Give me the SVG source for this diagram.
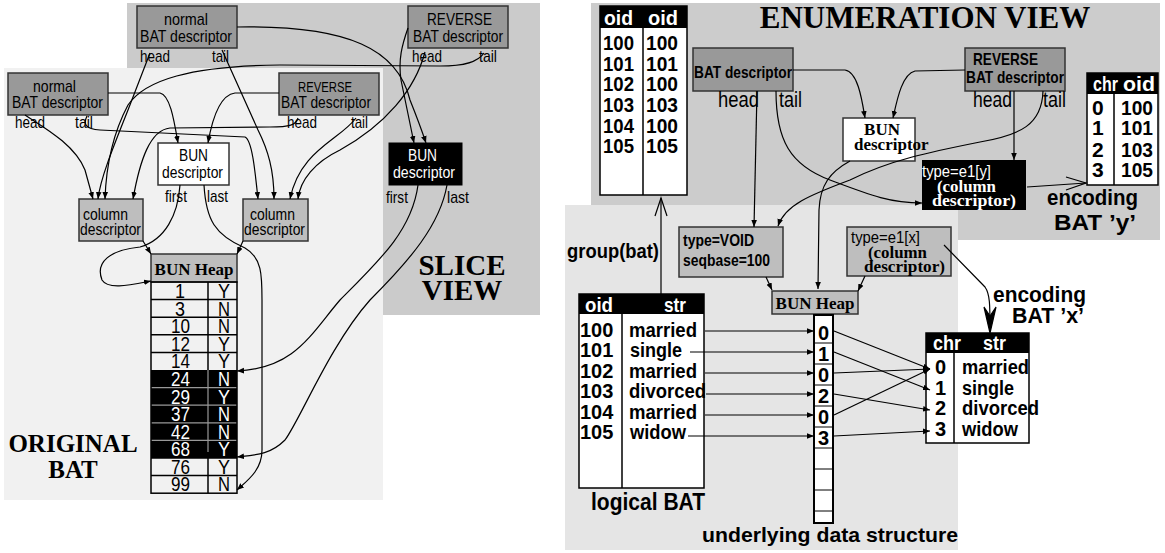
<svg xmlns="http://www.w3.org/2000/svg" width="1165" height="553" viewBox="0 0 1165 553">
<style>
.n{font-family:"Liberation Sans",Arial,sans-serif;}
.nb{font-family:"Liberation Sans",Arial,sans-serif;font-weight:bold;}
.sb{font-family:"Liberation Serif","Times New Roman",serif;font-weight:bold;}
.c{stroke:#000;stroke-width:1.2;fill:none;}
.box{stroke:#333;stroke-width:1.5;}
.dark{fill:#999999;}
.mid{fill:#bebebe;}
.w{fill:#fff;}
.grid{stroke:#000;stroke-width:1.5;fill:none;}
</style>
<defs>
<marker id="a" viewBox="0 0 10 10" refX="10" refY="5" markerWidth="7" markerHeight="7" markerUnits="userSpaceOnUse" orient="auto">
<path d="M0,1 L10,5 L0,9 z" fill="#000"/>
</marker>
</defs>

<!-- backgrounds -->
<rect x="127" y="3" width="413" height="312" fill="#cbcbcb"/>
<rect x="4" y="68" width="379" height="432" fill="#f1f1f1"/>
<rect x="591" y="3" width="569" height="237" fill="#cccccc"/>
<rect x="565" y="205" width="393" height="345" fill="#e5e5e5"/>

<!-- titles -->
<g id="slice-title" class="sb" font-size="29" text-anchor="middle"><text x="462" y="275">SLICE</text><text x="462" y="300">VIEW</text></g>
<g id="orig-title" class="sb" font-size="25" text-anchor="middle"><text x="73" y="452">ORIGINAL</text><text x="73" y="478">BAT</text></g>
<text id="enum-title" class="sb" font-size="31" text-anchor="middle" x="925" y="28">ENUMERATION VIEW</text>

<!-- LEFT NODES -->
<g id="slice-normal" class="n" font-size="17">
<rect x="137" y="6" width="100" height="42" class="box dark"/>
<text x="164" y="25" textLength="44" lengthAdjust="spacingAndGlyphs">normal</text>
<text x="140" y="42" textLength="92" lengthAdjust="spacingAndGlyphs">BAT descriptor</text>
<text x="140" y="62" textLength="30" lengthAdjust="spacingAndGlyphs">head</text><text x="212" y="62" textLength="17" lengthAdjust="spacingAndGlyphs">tail</text>
</g>
<g id="slice-reverse" class="n" font-size="17">
<rect x="408" y="6" width="100" height="42" class="box dark"/>
<text x="427" y="25" textLength="65" lengthAdjust="spacingAndGlyphs">REVERSE</text>
<text x="413" y="42" textLength="90" lengthAdjust="spacingAndGlyphs">BAT descriptor</text>
<text x="412" y="62" textLength="30" lengthAdjust="spacingAndGlyphs">head</text><text x="479" y="62" textLength="18" lengthAdjust="spacingAndGlyphs">tail</text>
</g>
<g id="orig-normal" class="n" font-size="17">
<rect x="8" y="73" width="100" height="42" class="box dark"/>
<text x="33" y="92" textLength="43" lengthAdjust="spacingAndGlyphs">normal</text>
<text x="12" y="108" textLength="91" lengthAdjust="spacingAndGlyphs">BAT descriptor</text>
<text x="15" y="128" textLength="30" lengthAdjust="spacingAndGlyphs">head</text><text x="75" y="128" textLength="18" lengthAdjust="spacingAndGlyphs">tail</text>
</g>
<g id="orig-reverse" class="n" font-size="17">
<rect x="279" y="73" width="100" height="42" class="box dark"/>
<text x="298" y="92" font-size="15" textLength="54" lengthAdjust="spacingAndGlyphs">REVERSE</text>
<text x="281" y="108" textLength="90" lengthAdjust="spacingAndGlyphs">BAT descriptor</text>
<text x="287" y="128" textLength="30" lengthAdjust="spacingAndGlyphs">head</text><text x="351" y="128" textLength="17" lengthAdjust="spacingAndGlyphs">tail</text>
</g>
<g id="orig-bun" class="n" font-size="17">
<rect x="158" y="143" width="71" height="42" class="box w"/>
<text x="179" y="161" textLength="29" lengthAdjust="spacingAndGlyphs">BUN</text>
<text x="162" y="178" textLength="61" lengthAdjust="spacingAndGlyphs">descriptor</text>
<text x="165" y="202" textLength="22" lengthAdjust="spacingAndGlyphs">first</text><text x="207" y="202" textLength="21" lengthAdjust="spacingAndGlyphs">last</text>
</g>
<g id="slice-bun" class="n" font-size="17">
<rect x="389" y="143" width="73" height="42" fill="#000" stroke="#000"/>
<text x="408" y="161" fill="#fff" textLength="29" lengthAdjust="spacingAndGlyphs">BUN</text>
<text x="393" y="178" fill="#fff" textLength="62" lengthAdjust="spacingAndGlyphs">descriptor</text>
<text x="386" y="203" textLength="22" lengthAdjust="spacingAndGlyphs">first</text><text x="447" y="203" textLength="22" lengthAdjust="spacingAndGlyphs">last</text>
</g>
<g id="col-left" class="n" font-size="17">
<rect x="79" y="199" width="64" height="42" class="box mid"/>
<text x="83" y="220" textLength="45" lengthAdjust="spacingAndGlyphs">column</text><text x="80" y="235" textLength="61" lengthAdjust="spacingAndGlyphs">descriptor</text>
</g>
<g id="col-right" class="n" font-size="17">
<rect x="243" y="199" width="65" height="42" class="box mid"/>
<text x="250" y="220" textLength="45" lengthAdjust="spacingAndGlyphs">column</text><text x="244" y="235" textLength="61" lengthAdjust="spacingAndGlyphs">descriptor</text>
</g>
<g id="bun-heap-left">
<rect x="151" y="254" width="86" height="28" class="box mid"/>
<text x="194" y="275" class="sb" font-size="17" text-anchor="middle">BUN Heap</text>
<rect x="151" y="370" width="86" height="88" fill="#000"/>
<g stroke="#000" stroke-width="1.5">
<line x1="151" y1="299.6" x2="237" y2="299.6"/><line x1="151" y1="317.2" x2="237" y2="317.2"/><line x1="151" y1="334.8" x2="237" y2="334.8"/><line x1="151" y1="352.4" x2="237" y2="352.4"/>
<line x1="151" y1="475.6" x2="237" y2="475.6"/>
<line x1="208" y1="282" x2="208" y2="370"/><line x1="208" y1="458" x2="208" y2="493"/>
</g>
<g stroke="#999" stroke-width="1.2">
<line x1="151" y1="387.6" x2="237" y2="387.6"/><line x1="151" y1="405.2" x2="237" y2="405.2"/><line x1="151" y1="422.8" x2="237" y2="422.8"/><line x1="151" y1="440.4" x2="237" y2="440.4"/>
<line x1="208" y1="370" x2="208" y2="452"/>
</g>
<line x1="151" y1="458" x2="237" y2="458" stroke="#000" stroke-width="1.5"/>
<rect x="151" y="282" width="86" height="211.2" class="grid"/>
<g class="n" font-size="21">
<text x="175" y="298" textLength="10" lengthAdjust="spacingAndGlyphs">1</text><text x="218" y="298" textLength="12" lengthAdjust="spacingAndGlyphs">Y</text>
<text x="175" y="316" textLength="10" lengthAdjust="spacingAndGlyphs">3</text><text x="218" y="316" textLength="12" lengthAdjust="spacingAndGlyphs">N</text>
<text x="171" y="333" textLength="19" lengthAdjust="spacingAndGlyphs">10</text><text x="218" y="333" textLength="12" lengthAdjust="spacingAndGlyphs">N</text>
<text x="171" y="351" textLength="19" lengthAdjust="spacingAndGlyphs">12</text><text x="218" y="351" textLength="12" lengthAdjust="spacingAndGlyphs">Y</text>
<text x="171" y="368" textLength="19" lengthAdjust="spacingAndGlyphs">14</text><text x="218" y="368" textLength="12" lengthAdjust="spacingAndGlyphs">Y</text>
<g fill="#fff">
<text x="171" y="386" textLength="19" lengthAdjust="spacingAndGlyphs">24</text><text x="218" y="386" textLength="12" lengthAdjust="spacingAndGlyphs">N</text>
<text x="171" y="404" textLength="19" lengthAdjust="spacingAndGlyphs">29</text><text x="218" y="404" textLength="12" lengthAdjust="spacingAndGlyphs">Y</text>
<text x="171" y="421" textLength="19" lengthAdjust="spacingAndGlyphs">37</text><text x="218" y="421" textLength="12" lengthAdjust="spacingAndGlyphs">N</text>
<text x="171" y="439" textLength="19" lengthAdjust="spacingAndGlyphs">42</text><text x="218" y="439" textLength="12" lengthAdjust="spacingAndGlyphs">N</text>
<text x="171" y="456" textLength="19" lengthAdjust="spacingAndGlyphs">68</text><text x="218" y="456" textLength="12" lengthAdjust="spacingAndGlyphs">Y</text>
</g>
<text x="171" y="474" textLength="19" lengthAdjust="spacingAndGlyphs">76</text><text x="218" y="474" textLength="12" lengthAdjust="spacingAndGlyphs">Y</text>
<text x="171" y="491" textLength="19" lengthAdjust="spacingAndGlyphs">99</text><text x="218" y="491" textLength="12" lengthAdjust="spacingAndGlyphs">N</text>
</g>
</g>

<!-- RIGHT NODES -->
<g id="oid-oid-table">
<rect x="600" y="6" width="87" height="189" fill="#fff" stroke="#000" stroke-width="1.5"/>
<rect x="600" y="6" width="87" height="22" fill="#000"/>
<line x1="643" y1="28" x2="643" y2="195" stroke="#000" stroke-width="1.5"/>
<g class="nb" font-size="21">
<text x="604" y="25" fill="#fff" textLength="29" lengthAdjust="spacingAndGlyphs">oid</text><text x="648" y="25" fill="#fff" textLength="30" lengthAdjust="spacingAndGlyphs">oid</text>
<text x="603" y="50" textLength="31" lengthAdjust="spacingAndGlyphs">100</text><text x="646" y="50" textLength="32" lengthAdjust="spacingAndGlyphs">100</text>
<text x="603" y="71" textLength="31" lengthAdjust="spacingAndGlyphs">101</text><text x="646" y="71" textLength="32" lengthAdjust="spacingAndGlyphs">101</text>
<text x="603" y="91" textLength="31" lengthAdjust="spacingAndGlyphs">102</text><text x="646" y="91" textLength="32" lengthAdjust="spacingAndGlyphs">100</text>
<text x="603" y="112" textLength="31" lengthAdjust="spacingAndGlyphs">103</text><text x="646" y="112" textLength="32" lengthAdjust="spacingAndGlyphs">103</text>
<text x="603" y="133" textLength="31" lengthAdjust="spacingAndGlyphs">104</text><text x="646" y="133" textLength="32" lengthAdjust="spacingAndGlyphs">100</text>
<text x="603" y="153" textLength="31" lengthAdjust="spacingAndGlyphs">105</text><text x="646" y="153" textLength="32" lengthAdjust="spacingAndGlyphs">105</text>
</g>
</g>
<g id="enum-bat-desc">
<rect x="693" y="48" width="100" height="43" class="box dark"/>
<text x="694" y="78" class="nb" font-size="17" textLength="98" lengthAdjust="spacingAndGlyphs">BAT descriptor</text>
<g class="n" font-size="22"><text x="718" y="107" textLength="41" lengthAdjust="spacingAndGlyphs">head</text><text x="779" y="107" textLength="23" lengthAdjust="spacingAndGlyphs">tail</text></g>
</g>
<g id="enum-reverse-desc">
<rect x="965" y="48" width="100" height="43" class="box dark"/>
<text x="973" y="65" class="nb" font-size="17" textLength="65" lengthAdjust="spacingAndGlyphs">REVERSE</text>
<text x="966" y="83" class="nb" font-size="17" textLength="98" lengthAdjust="spacingAndGlyphs">BAT descriptor</text>
<g class="n" font-size="22"><text x="973" y="107" textLength="39" lengthAdjust="spacingAndGlyphs">head</text><text x="1043" y="107" textLength="23" lengthAdjust="spacingAndGlyphs">tail</text></g>
</g>
<g id="enum-bun-desc">
<rect x="843" y="118" width="72" height="43" class="box w"/>
<text x="882" y="135" class="sb" font-size="17" text-anchor="middle">BUN</text>
<text x="854" y="150" class="sb" font-size="17">descriptor</text>
</g>
<g id="type-e1y">
<rect x="922" y="160" width="104" height="50" fill="#000"/>
<text x="922" y="177" class="n" font-size="17" fill="#fff" textLength="69" lengthAdjust="spacingAndGlyphs">type=e1[y]</text>
<text x="937" y="192" class="sb" font-size="16" fill="#fff" textLength="59" lengthAdjust="spacingAndGlyphs">(column</text>
<text x="932" y="206" class="sb" font-size="16" fill="#fff" textLength="84" lengthAdjust="spacingAndGlyphs">descriptor)</text>
</g>
<g id="chr-oid-table">
<rect x="1087" y="73" width="71" height="112" fill="#fff" stroke="#000" stroke-width="1.5"/>
<rect x="1087" y="73" width="71" height="21" fill="#000"/>
<line x1="1114" y1="94" x2="1114" y2="185" stroke="#000" stroke-width="1.5"/>
<g class="nb" font-size="21">
<text x="1093" y="91" fill="#fff" textLength="25" lengthAdjust="spacingAndGlyphs">chr</text><text x="1123" y="91" fill="#fff" textLength="32" lengthAdjust="spacingAndGlyphs">oid</text>
<text x="1092" y="115">0</text><text x="1121" y="115" textLength="32" lengthAdjust="spacingAndGlyphs">100</text>
<text x="1092" y="135">1</text><text x="1121" y="135" textLength="32" lengthAdjust="spacingAndGlyphs">101</text>
<text x="1092" y="157">2</text><text x="1121" y="157" textLength="32" lengthAdjust="spacingAndGlyphs">103</text>
<text x="1092" y="177">3</text><text x="1121" y="177" textLength="32" lengthAdjust="spacingAndGlyphs">105</text>
</g>
</g>
<g id="enc-y-label" class="nb" font-size="22"><text x="1047" y="205" textLength="91" lengthAdjust="spacingAndGlyphs">encoding</text><text x="1054" y="230" textLength="82" lengthAdjust="spacingAndGlyphs">BAT ’y’</text></g>

<g id="type-void">
<rect x="679" y="227" width="104" height="50" class="box mid"/>
<g class="nb" font-size="17"><text x="683" y="246" textLength="71" lengthAdjust="spacingAndGlyphs">type=VOID</text><text x="683" y="266" textLength="87" lengthAdjust="spacingAndGlyphs">seqbase=100</text></g>
</g>
<g id="type-e1x">
<rect x="847" y="227" width="104" height="49" class="box mid"/>
<text x="851" y="243" class="n" font-size="17" textLength="69" lengthAdjust="spacingAndGlyphs">type=e1[x]</text>
<text x="868" y="258" class="sb" font-size="16" textLength="59" lengthAdjust="spacingAndGlyphs">(column</text>
<text x="864" y="272" class="sb" font-size="16" textLength="81" lengthAdjust="spacingAndGlyphs">descriptor)</text>
</g>
<g id="bun-heap-right">
<rect x="772" y="291" width="86" height="23" class="box mid"/>
<text x="815" y="309" class="sb" font-size="17" text-anchor="middle">BUN Heap</text>
<rect x="814" y="315" width="19" height="208" fill="#fff" stroke="#000" stroke-width="2"/>
<g stroke="#000" stroke-width="1">
<line x1="814" y1="343" x2="833" y2="343"/><line x1="814" y1="364" x2="833" y2="364"/><line x1="814" y1="385" x2="833" y2="385"/><line x1="814" y1="406" x2="833" y2="406"/><line x1="814" y1="427" x2="833" y2="427"/><line x1="814" y1="448" x2="833" y2="448"/><line x1="814" y1="469" x2="833" y2="469"/><line x1="814" y1="490" x2="833" y2="490"/><line x1="814" y1="511" x2="833" y2="511"/>
</g>
<g class="nb" font-size="20" text-anchor="middle">
<text x="823.5" y="340">0</text><text x="823.5" y="361">1</text><text x="823.5" y="382">0</text><text x="823.5" y="403">2</text><text x="823.5" y="424">0</text><text x="823.5" y="445">3</text>
</g>
<text x="702" y="542" class="nb" font-size="21" textLength="256" lengthAdjust="spacingAndGlyphs">underlying data structure</text>
</g>
<g id="logical-bat">
<rect x="579" y="294" width="125" height="194" fill="#fff" stroke="#000" stroke-width="1.5"/>
<rect x="579" y="294" width="125" height="20" fill="#000"/>
<line x1="622" y1="314" x2="622" y2="488" stroke="#000" stroke-width="1.5"/>
<g class="nb" font-size="20">
<text x="585" y="312" fill="#fff" textLength="28" lengthAdjust="spacingAndGlyphs">oid</text><text x="664" y="312" fill="#fff" textLength="22" lengthAdjust="spacingAndGlyphs">str</text>
<text x="580" y="337">100</text><text x="629" y="337" textLength="68" lengthAdjust="spacingAndGlyphs">married</text>
<text x="580" y="357">101</text><text x="630" y="357" textLength="52" lengthAdjust="spacingAndGlyphs">single</text>
<text x="580" y="378">102</text><text x="629" y="378" textLength="68" lengthAdjust="spacingAndGlyphs">married</text>
<text x="580" y="398">103</text><text x="629" y="398" textLength="77" lengthAdjust="spacingAndGlyphs">divorced</text>
<text x="580" y="419">104</text><text x="629" y="419" textLength="68" lengthAdjust="spacingAndGlyphs">married</text>
<text x="580" y="439">105</text><text x="630" y="439" textLength="56" lengthAdjust="spacingAndGlyphs">widow</text>
</g>
<text x="591" y="510" class="nb" font-size="23" textLength="114" lengthAdjust="spacingAndGlyphs">logical BAT</text>
</g>
<g id="chr-str-table">
<rect x="926" y="333" width="103" height="110" fill="#fff" stroke="#000" stroke-width="1.5"/>
<rect x="926" y="333" width="103" height="20" fill="#000"/>
<line x1="954" y1="353" x2="954" y2="443" stroke="#000" stroke-width="1.5"/>
<g class="nb" font-size="20">
<text x="933" y="350" fill="#fff" textLength="28" lengthAdjust="spacingAndGlyphs">chr</text><text x="983" y="350" fill="#fff" textLength="23" lengthAdjust="spacingAndGlyphs">str</text>
<text x="935" y="374">0</text><text x="962" y="374" textLength="67" lengthAdjust="spacingAndGlyphs">married</text>
<text x="935" y="395">1</text><text x="962" y="395" textLength="52" lengthAdjust="spacingAndGlyphs">single</text>
<text x="935" y="415">2</text><text x="962" y="415" textLength="77" lengthAdjust="spacingAndGlyphs">divorced</text>
<text x="935" y="436">3</text><text x="962" y="436" textLength="56" lengthAdjust="spacingAndGlyphs">widow</text>
</g>
</g>
<g id="enc-x-label" class="nb" font-size="22"><text x="993" y="302" textLength="93" lengthAdjust="spacingAndGlyphs">encoding</text><text x="1012" y="323" textLength="72" lengthAdjust="spacingAndGlyphs">BAT ’x’</text></g>
<text id="group-label" x="567" y="258" class="nb" font-size="20" textLength="92" lengthAdjust="spacingAndGlyphs">group(bat)</text>

<!-- CONNECTORS -->
<g id="connectors" class="c">
<g marker-end="url(#a)">
<path d="M237,27 C350,25 398,50 410,100 Q420,125 426,143"/>
<path d="M408,28 C402,45 398,60 401,80 L414,143"/>
<path d="M425,52 C415,90 385,125 340,150 C315,162 300,180 298,199"/>
<path d="M484,53 C478,62 465,66 440,66 L280,65 C190,66 145,80 128,105 C112,135 106,170 105,199"/>
<path d="M150,53 L128,110 C112,150 100,180 98,199"/>
<path d="M222,50 L258,130 C268,150 274,170 274,199"/>
<path d="M25,115 C45,128 75,145 85,170 L93,199"/>
<path d="M87,116 C83,124 85,129 100,130 L245,137 C252,140 255,170 258,199"/>
<path d="M108,93 L160,93 C170,95 174,120 178,143"/>
<path d="M279,93 L235,93 C220,95 212,120 208,143"/>
<path d="M298,118 C296,125 290,127 270,127 L170,128 C150,130 140,160 133,199"/>
<path d="M356,118 C340,140 300,150 290,199"/>
<path d="M143,241 L151,254"/>
<path d="M243,241 L237,254"/>
<path d="M180,185 C178,215 165,240 140,247 C110,250 95,262 102,280 C108,290 130,285 151,281"/>
<path d="M204,185 C206,220 215,235 245,248 C262,258 262,275 262,300 L262,450 C262,470 248,480 237,490"/>
<path d="M418,185 C412,230 380,260 340,300 C310,335 295,368 237,371"/>
<path d="M447,185 C440,225 410,260 370,300 C330,345 300,420 285,440 C270,455 255,455 237,457"/>

<path d="M793,70 L845,70 C858,72 862,100 865,118"/>
<path d="M965,70 L915,71 C902,74 897,100 893,118"/>
<path d="M757,91 L754,227"/>
<path d="M776,91 C776,140 790,165 830,180 C870,195 890,203 922,203"/>
<path d="M1014,91 L1014,160"/>
<path d="M1043,91 C1042,125 1020,135 980,142 C930,152 890,160 850,180 C810,195 785,205 778,226"/>
<path d="M850,161 C830,172 820,185 819,210 L818,289"/>
<path d="M766,277 L772,290"/>
<path d="M865,276 L858,291"/>

<path d="M705,331 L814,331"/>
<path d="M690,352 L814,352"/>
<path d="M705,373 L814,373"/>
<path d="M706,394 L814,394"/>
<path d="M705,415 L814,415"/>
<path d="M688,436 L814,436"/>

<path d="M834,331 L930,369"/>
<path d="M834,352 L930,390"/>
<path d="M834,373 L930,369"/>
<path d="M834,394 L930,410"/>
<path d="M834,415 L930,369"/>
<path d="M834,436 L930,431"/>
</g>
<path d="M944,245 L985,287 C990,294 990,305 990,330"/>
<polygon points="984,307 990,333 996,307 990,316" fill="#000"/>
<path d="M1027,187 L1086,183"/>
<polyline points="1066,177 1086,183 1066,190"/>
<path d="M661,294 L661,198"/>
<polyline points="655,216 661,198 667,216"/>
</g>
</svg>
